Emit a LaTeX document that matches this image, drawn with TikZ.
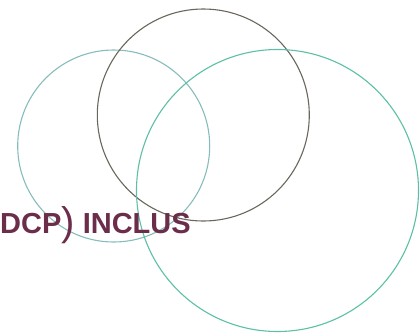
\documentclass[tikz,border=0pt]{standalone}
\usepackage{fontspec}
\setmainfont{Liberation Sans}
\definecolor{tealA}{HTML}{86BDBB}
\definecolor{greyB}{HTML}{6A665C}
\definecolor{greenC}{HTML}{5DBFA6}
\definecolor{maroon}{HTML}{6B2D4A}
\begin{document}
\begin{tikzpicture}[x=1pt,y=-1pt,
  ring/.style={draw=#1,line width=1.1pt},
  label/.style={inner sep=0pt,anchor=base west,text=maroon,font=\bfseries\fontsize{29}{31}\selectfont}]
\useasboundingbox (0,0) rectangle (420,333);
\node[ring=tealA,circle,minimum size=192pt,inner sep=0pt] (left) at (113.7,146) {};
\node[ring=greyB,circle,minimum size=212pt,inner sep=0pt] (top) at (203.3,115) {};
\node[ring=greenC,circle,minimum size=282pt,inner sep=0pt] (right) at (277.5,190.5) {};
\node[label] (txt) at (0,233.5) {DCP{\mdseries\fontsize{40}{42}\selectfont\raisebox{-1.5pt}{)}} INCLUS};
\end{tikzpicture}
\end{document}
